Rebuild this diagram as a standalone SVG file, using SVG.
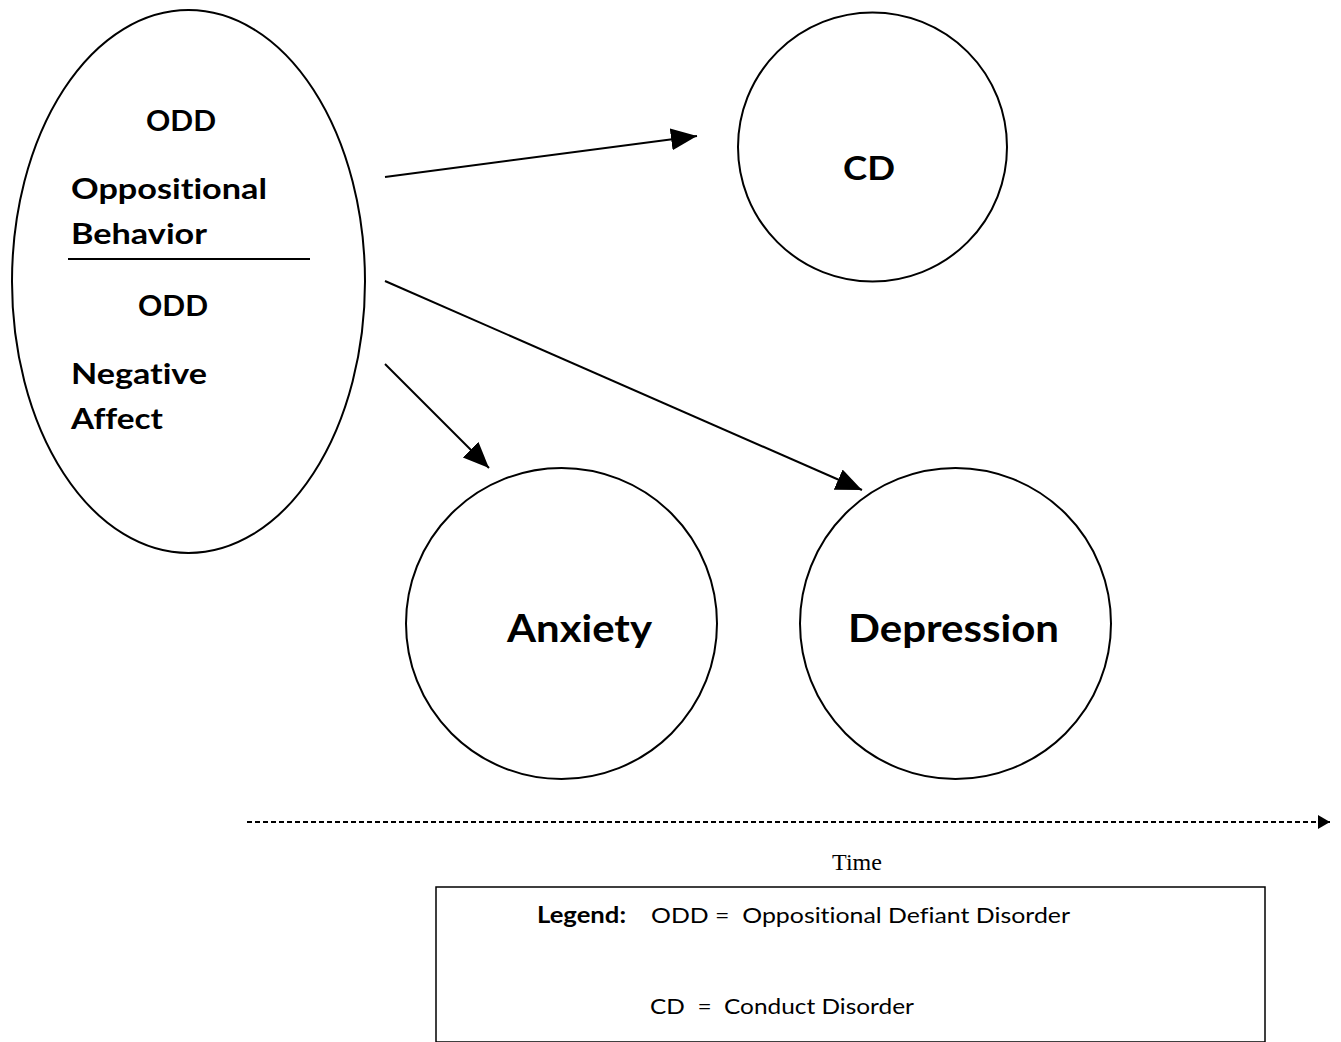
<svg xmlns="http://www.w3.org/2000/svg" width="1341" height="1042" viewBox="0 0 1341 1042">
<style>
.shape{fill:#fff;stroke:#000;stroke-width:2}
.lbl{font-family:Lato,"Open Sans",sans-serif;font-weight:bold;fill:#000;font-variant-ligatures:none}
.leg{font-family:Lato,"Open Sans",sans-serif;fill:#000;font-size:22px;font-variant-ligatures:none}
.conn{stroke:#000;stroke-width:2;fill:none}
</style>
<defs>
<marker id="ah" markerUnits="userSpaceOnUse" markerWidth="28" markerHeight="24" refX="26" refY="11" orient="auto" viewBox="0 0 28 24">
<path d="M0,0 L26,11 L0,22 z" fill="#000"/>
</marker>
<marker id="ahs" markerUnits="userSpaceOnUse" markerWidth="14" markerHeight="16" refX="12" refY="7" orient="auto" viewBox="0 0 14 16">
<path d="M0,0 L12,7 L0,14 z" fill="#000"/>
</marker>
</defs>
<rect width="1341" height="1042" fill="#fff"/>
<g id="odd">
<ellipse class="shape" cx="188.5" cy="281.5" rx="176.5" ry="271.5"/>
<line x1="68" y1="259" x2="310" y2="259" stroke="#000" stroke-width="2"/>
<text class="lbl" font-size="29" x="146" y="131" textLength="70" lengthAdjust="spacingAndGlyphs">ODD</text>
<text class="lbl" font-size="29" x="71" y="199" textLength="196" lengthAdjust="spacingAndGlyphs">Oppositional</text>
<text class="lbl" font-size="29" x="71" y="244" textLength="136" lengthAdjust="spacingAndGlyphs">Behavior</text>
<text class="lbl" font-size="29" x="138" y="316" textLength="70" lengthAdjust="spacingAndGlyphs">ODD</text>
<text class="lbl" font-size="29" x="71" y="384" textLength="136" lengthAdjust="spacingAndGlyphs">Negative</text>
<text class="lbl" font-size="29" x="71" y="429" textLength="92" lengthAdjust="spacingAndGlyphs">Affect</text>
</g>
<g id="cd">
<circle class="shape" cx="872.5" cy="147" r="134.5"/>
<text class="lbl" font-size="33" x="843" y="180" textLength="52" lengthAdjust="spacingAndGlyphs">CD</text>
</g>
<g id="anxiety">
<circle class="shape" cx="561.5" cy="623.5" r="155.5"/>
<text class="lbl" font-size="38" x="507" y="642" textLength="145" lengthAdjust="spacingAndGlyphs">Anxiety</text>
</g>
<g id="depression">
<circle class="shape" cx="955.5" cy="623.5" r="155.5"/>
<text class="lbl" font-size="38" x="848" y="642" textLength="211" lengthAdjust="spacingAndGlyphs">Depression</text>
</g>
<g id="connectors">
<line class="conn" x1="385" y1="177" x2="697" y2="136" marker-end="url(#ah)"/>
<line class="conn" x1="385" y1="281" x2="862" y2="490" marker-end="url(#ah)"/>
<line class="conn" x1="385" y1="364" x2="489" y2="468" marker-end="url(#ah)"/>
<line class="conn" x1="247" y1="822" x2="1330" y2="822" stroke-dasharray="5,3" marker-end="url(#ahs)"/>
</g>
<g id="time">
<text x="857" y="870" text-anchor="middle" font-family="'Liberation Serif',serif" font-size="24" fill="#000">Time</text>
</g>
<g id="legend">
<rect x="436" y="887" width="829" height="155" fill="#fff" stroke="#000" stroke-width="1.5"/>
<text class="leg" font-weight="bold" x="537" y="923" textLength="89" lengthAdjust="spacingAndGlyphs">Legend:</text>
<text class="leg" x="651" y="923" textLength="419" lengthAdjust="spacingAndGlyphs" xml:space="preserve">ODD =  Oppositional Defiant Disorder</text>
<text class="leg" x="650" y="1014" textLength="264" lengthAdjust="spacingAndGlyphs" xml:space="preserve">CD  =  Conduct Disorder</text>
</g>
</svg>
